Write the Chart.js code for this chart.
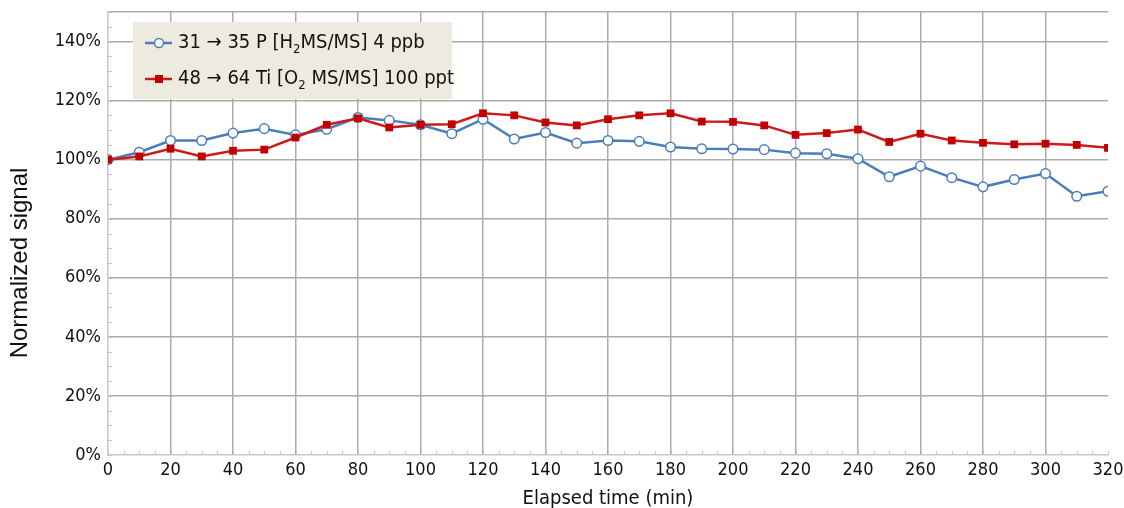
<!DOCTYPE html>
<html>
<head>
<meta charset="utf-8">
<script src="https://cdn.jsdelivr.net/npm/chart.js@4.4.1/dist/chart.umd.min.js"></script>
<style>
  html, body { margin: 0; padding: 0; background: #fff; }
  canvas { display: block; }
</style>
</head>
<body>
<canvas id="signalChart" width="1124" height="508"></canvas>
<script>
// elapsed time (min)
const times = [0, 10, 20, 30, 40, 50, 60, 70, 80, 90, 100, 110, 120, 130, 140, 150, 160,
  170, 180, 190, 200, 210, 220, 230, 240, 250, 260, 270, 280, 290, 300, 310, 320];

// 31 -> 35 P, H2 mode, normalized %
const phosphorus = [100, 102.5, 106.5, 106.5, 109, 110.5, 108.4, 110.3, 114.3, 113.3, 111.8,
  108.8, 113.7, 107, 109.2, 105.6, 106.5, 106.2, 104.3, 103.7, 103.6, 103.4, 102.2, 102,
  100.3, 94.2, 97.8, 93.9, 90.8, 93.3, 95.3, 87.6, 89.3];

// 48 -> 64 Ti, O2 mode, normalized %
const titanium = [100, 101.1, 103.7, 101.1, 103, 103.4, 107.5, 111.8, 114, 110.9, 111.8,
  112, 115.7, 115, 112.6, 111.6, 113.7, 115, 115.7, 112.9, 112.8, 111.6, 108.4, 109,
  110.2, 106, 108.8, 106.5, 105.7, 105.2, 105.4, 105, 104];

const legendLabels = [
  ['31 \u2192 35 P [H', '2', 'MS/MS] 4 ppb'],
  ['48 \u2192 64 Ti [O', '2', ' MS/MS] 100 ppt']
];

const condensed = "'DejaVu Sans Condensed', sans-serif";
const gridColor = '#ababab';
const blue = '#4a7ebb';
const red = '#cc1a1a';

const ctx = document.getElementById('signalChart').getContext('2d');

// small inner tick marks every 5 units on both axes
const minorTicks = {
  id: 'minorTicks',
  beforeDatasetsDraw(chart) {
    const { ctx, scales: { x, y } } = chart;
    ctx.save();
    ctx.strokeStyle = '#c4c4c4';
    ctx.lineWidth = 1;
    ctx.beginPath();
    for (let v = 0; v <= x.max; v += 5) {
      const px = Math.round(x.getPixelForValue(v)) + 0.5;
      ctx.moveTo(px, y.bottom);
      ctx.lineTo(px, y.bottom - 4);
    }
    for (let v = 0; v <= y.max; v += 5) {
      const py = Math.round(y.getPixelForValue(v)) + 0.5;
      ctx.moveTo(x.left, py);
      ctx.lineTo(x.left + 4, py);
    }
    ctx.stroke();
    ctx.restore();
  }
};

// legend box inside the plot + rotated y title
const legendBox = {
  id: 'legendBox',
  afterDatasetsDraw(chart) {
    const { ctx } = chart;
    ctx.save();
    ctx.fillStyle = '#edebe0';
    ctx.fillRect(133, 22, 319, 77);

    const rows = [
      { y: 43, color: blue, style: 'circle' },
      { y: 79, color: red, style: 'rect' }
    ];
    rows.forEach((row, i) => {
      ctx.strokeStyle = row.color;
      ctx.lineWidth = 2.5;
      ctx.beginPath();
      ctx.moveTo(145, row.y);
      ctx.lineTo(172, row.y);
      ctx.stroke();
      if (row.style === 'circle') {
        ctx.fillStyle = '#fff';
        ctx.lineWidth = 1.5;
        ctx.beginPath();
        ctx.arc(159, row.y, 4.5, 0, Math.PI * 2);
        ctx.fill();
        ctx.stroke();
      } else {
        ctx.fillStyle = '#c00000';
        ctx.fillRect(155, row.y - 4, 8, 8);
      }

      const [head, sub, tail] = legendLabels[i];
      ctx.fillStyle = '#111';
      ctx.textBaseline = 'middle';
      ctx.font = '20px ' + condensed;
      let tx = 178;
      ctx.fillText(head, tx, row.y);
      tx += ctx.measureText(head).width;
      ctx.font = '13px ' + condensed;
      ctx.fillText(sub, tx, row.y + 7);
      tx += ctx.measureText(sub).width;
      ctx.font = '20px ' + condensed;
      ctx.fillText(tail, tx, row.y);
    });

    ctx.translate(20, 263);
    ctx.rotate(-Math.PI / 2);
    ctx.textAlign = 'center';
    ctx.textBaseline = 'middle';
    ctx.fillStyle = '#111';
    ctx.font = "24px 'Liberation Sans', Arial, sans-serif";
    ctx.fillText('Normalized signal', 0, 0);
    ctx.restore();
  }
};

new Chart(ctx, {
  type: 'line',
  data: {
    labels: times,
    datasets: [{
      label: '31 \u2192 35 P [H2MS/MS] 4 ppb',
      data: phosphorus,
      borderColor: blue,
      borderWidth: 2.5,
      pointStyle: 'circle',
      pointRadius: 4.8,
      pointBackgroundColor: '#fff',
      pointBorderColor: blue,
      pointBorderWidth: 1.5,
      tension: 0,
      order: 1
    }, {
      label: '48 \u2192 64 Ti [O2 MS/MS] 100 ppt',
      data: titanium,
      borderColor: red,
      borderWidth: 2.5,
      pointStyle: 'rect',
      pointRadius: 5.5,
      pointBackgroundColor: '#c00000',
      pointBorderColor: '#c00000',
      pointBorderWidth: 0,
      tension: 0,
      order: 0
    }]
  },
  options: {
    responsive: false,
    animation: false,
    layout: { padding: { left: 0, top: 12, right: 16, bottom: 0 } },
    plugins: {
      legend: { display: false },
      tooltip: { enabled: false }
    },
    scales: {
      x: {
        type: 'linear',
        min: 0,
        max: 320,
        afterFit(scale) {
          scale.height = 53;
          scale.paddingLeft = 0;
          scale.paddingRight = 0;
        },
        ticks: {
          stepSize: 20,
          padding: 5,
          color: '#111',
          font: { family: condensed, size: 18 }
        },
        grid: {
          drawTicks: false,
          lineWidth: 1.5,
          color: c => (c.tick && (c.tick.value === 0 || c.tick.value === 320)) ? 'rgba(0,0,0,0)' : gridColor
        },
        border: { color: '#c8c8c8', width: 1.5 },
        title: {
          display: true,
          text: 'Elapsed time (min)',
          color: '#111',
          padding: { top: 0, bottom: -1 },
          font: { family: condensed, size: 20, lineHeight: 1 }
        }
      },
      y: {
        min: 0,
        max: 150,
        afterFit(scale) {
          scale.width = 108;
          scale.paddingTop = 0;
          scale.paddingBottom = 0;
        },
        ticks: {
          stepSize: 20,
          padding: 7,
          color: '#111',
          font: { family: condensed, size: 18 },
          callback: v => (v % 20 === 0 ? v + '%' : '')
        },
        grid: {
          drawTicks: false,
          lineWidth: 1.5,
          color: c => (c.tick && c.tick.value === 0) ? 'rgba(0,0,0,0)' : gridColor
        },
        border: { color: '#c8c8c8', width: 1.5 }
      }
    }
  },
  plugins: [minorTicks, legendBox]
});
</script>
</body>
</html>
